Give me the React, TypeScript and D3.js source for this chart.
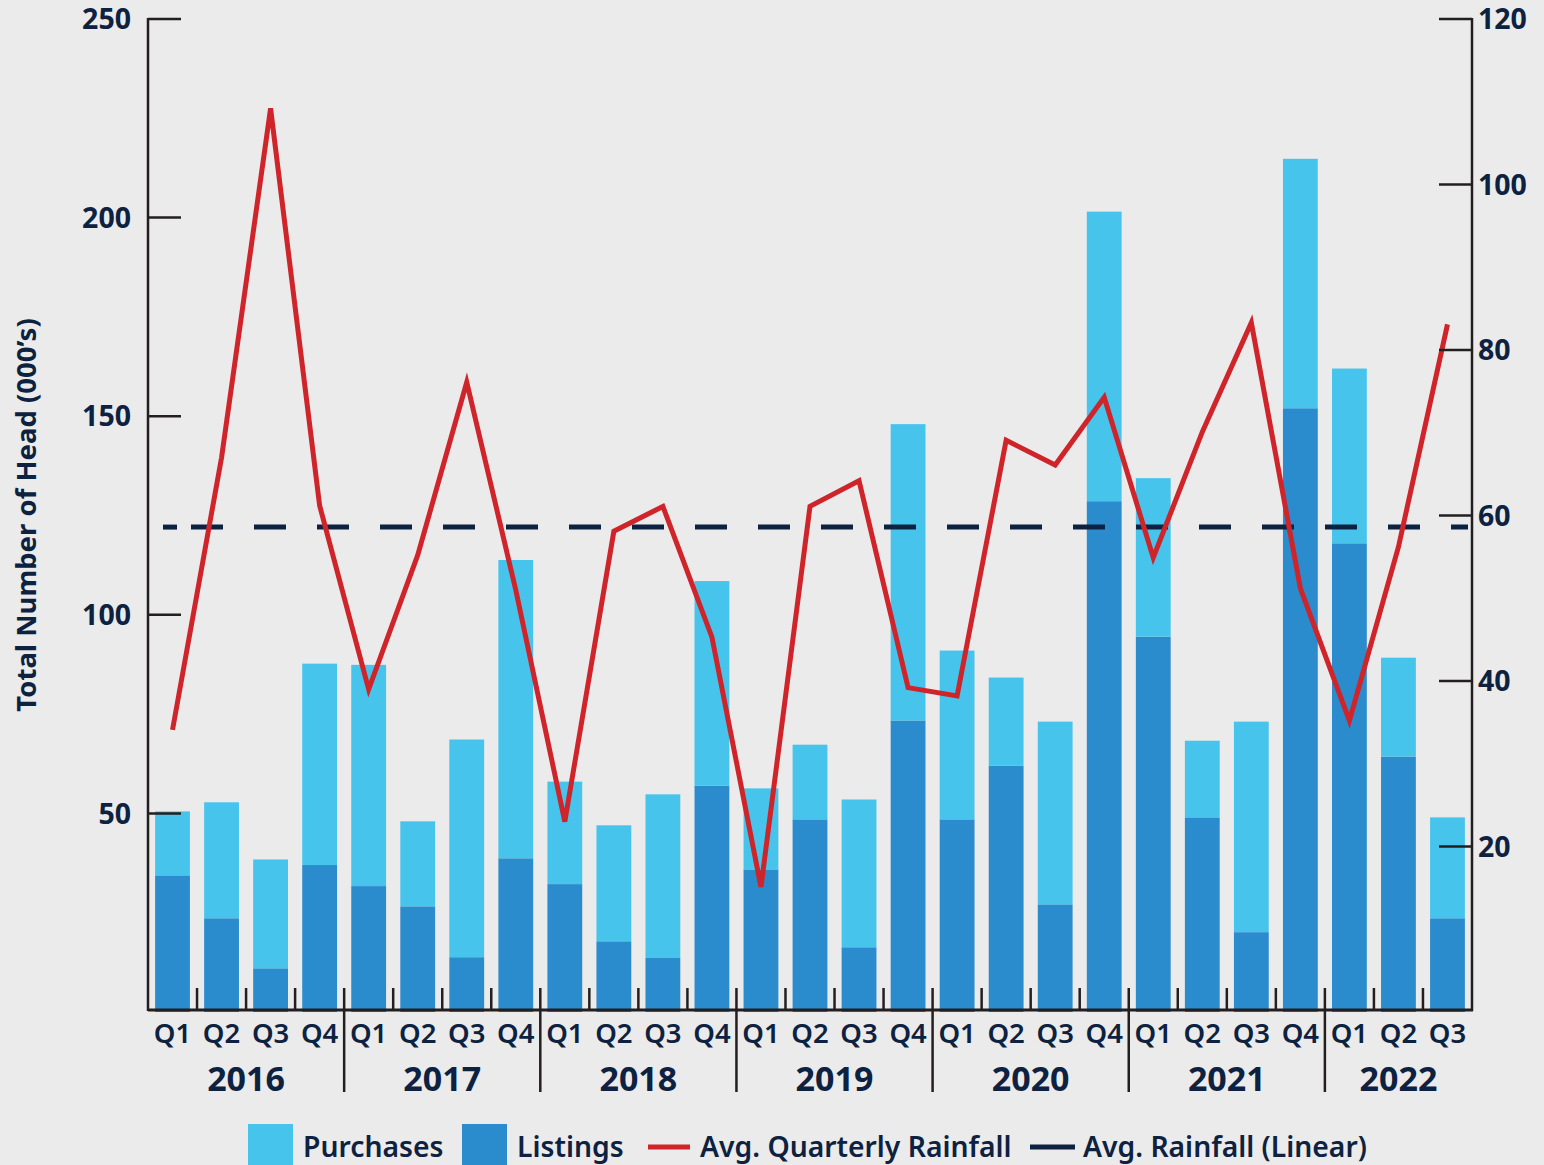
import React from "react";
import * as d3 from "d3";

const quarters = ["Q1","Q2","Q3","Q4","Q1","Q2","Q3","Q4","Q1","Q2","Q3","Q4","Q1","Q2","Q3","Q4","Q1","Q2","Q3","Q4","Q1","Q2","Q3","Q4","Q1","Q2","Q3"];
const years = ["2016","2017","2018","2019","2020","2021","2022"];
const listings = [34.4,23.6,11,37,31.7,26.6,13.8,38.7,32.2,17.8,13.6,57,35.9,48.5,16.3,73.4,48.5,62,27.1,128.6,94.5,49,20.1,152,118,64.3,23.6];
const purchases = [16.1,29.2,27.4,50.7,55.7,21.4,54.8,75.1,25.8,29.2,41.2,51.5,20.4,18.8,37.2,74.6,42.5,22.2,46,72.9,39.9,19.3,53,62.8,44,24.9,25.4];
const rainfall = [34.1,67,109.2,61.2,39,55.2,76.1,51,23,58.1,61.1,45.3,15.1,61.1,64.2,39.2,38.2,69.1,66.1,74.3,54.9,70.1,83.3,51.2,35.2,56.2,83.1];
const avgRainfall = 58.6;
const leftTicks = [50,100,150,200,250];
const rightTicks = [20,40,60,80,100,120];

const W = 1544, H = 1165;
const X0 = 148, X1 = 1472, Y0 = 1012, Y1 = 19;
const NAVY = "#0d2240";
const AXIS = "#231f20";
const LIGHT = "#47c4ec";
const DARK = "#2a8bcd";
const RED = "#d0242b";
const FONT = "'Noto Sans', 'Open Sans', sans-serif";

export default function App() {
  const idx = quarters.map((_, i) => i);
  const x = d3.scaleBand<number>().domain(idx).range([X0, X1]).paddingInner(0.29).paddingOuter(0.145);
  const yL = d3.scaleLinear().domain([0, 250]).range([Y0, Y1]);
  const yR = d3.scaleLinear().domain([0, 120]).range([Y0, Y1]);
  const line = d3.line<number>().x((_, i) => (x(i) as number) + x.bandwidth() / 2).y(d => yR(d));
  const bound = (k: number) => X0 + k * ((X1 - X0) / quarters.length);
  const axisY = 1010;
  const dashY = yR(avgRainfall);

  return (
    <svg width={W} height={H} style={{ position: "absolute", left: 0, top: 0, background: "#ebebeb" }} fontFamily={FONT}>
      <rect x={0} y={0} width={W} height={H} fill="#ebebeb" />
      {idx.map(i => (
        <g key={"b" + i}>
          <rect x={x(i)} width={x.bandwidth()} y={yL(listings[i])} height={yL(0) - yL(listings[i])} fill={DARK} />
          <rect x={x(i)} width={x.bandwidth()} y={yL(listings[i] + purchases[i])} height={yL(listings[i]) - yL(listings[i] + purchases[i])} fill={LIGHT} />
        </g>
      ))}
      <line x1={163} x2={177} y1={dashY} y2={dashY} stroke={NAVY} strokeWidth={5} />
      <line x1={191} x2={1468} y1={dashY} y2={dashY} stroke={NAVY} strokeWidth={5} strokeDasharray="32 31" />
      <path d={line(rainfall) || ""} fill="none" stroke={RED} strokeWidth={5} strokeLinejoin="miter" />
      <line x1={X0} x2={X0} y1={Y1 - 1} y2={axisY + 1} stroke={AXIS} strokeWidth={2.5} />
      <line x1={X1} x2={X1} y1={Y1 - 1} y2={axisY + 1} stroke={AXIS} strokeWidth={2.5} />
      <line x1={X0} x2={X1 + 1} y1={axisY} y2={axisY} stroke={AXIS} strokeWidth={3} />
      {leftTicks.map(t => (
        <g key={"l" + t}>
          <line x1={X0} x2={X0 + 33} y1={yL(t)} y2={yL(t)} stroke={AXIS} strokeWidth={2.5} />
          <text x={131} y={yL(t)} dy="0.36em" textAnchor="end" fontSize={28.5} fontWeight={700} fill={NAVY}>{t}</text>
        </g>
      ))}
      {rightTicks.map(t => (
        <g key={"r" + t}>
          <line x1={X1 - 33} x2={X1} y1={yR(t)} y2={yR(t)} stroke={AXIS} strokeWidth={2.5} />
          <text x={1478} y={yR(t)} dy="0.36em" textAnchor="start" fontSize={28.5} fontWeight={700} fill={NAVY}>{t}</text>
        </g>
      ))}
      {d3.range(1, quarters.length).map(k => (
        <line key={"q" + k} x1={bound(k)} x2={bound(k)} y1={axisY - 22} y2={k % 4 === 0 ? 1092 : axisY} stroke={AXIS} strokeWidth={2.5} />
      ))}
      {idx.map(i => (
        <text key={"ql" + i} x={(x(i) as number) + x.bandwidth() / 2} y={1043} textAnchor="middle" fontSize={27.5} fontWeight={600} fill={NAVY}>{quarters[i]}</text>
      ))}
      {years.map((yr, j) => {
        const a = bound(j * 4);
        const b = Math.min(bound(j * 4 + 4), X1);
        return <text key={yr} x={(a + b) / 2} y={1091} textAnchor="middle" fontSize={34} fontWeight={700} fill={NAVY}>{yr}</text>;
      })}
      <text transform="translate(36,515) rotate(-90)" textAnchor="middle" fontSize={27.5} fontWeight={700} fill={NAVY}>Total Number of Head (000’s)</text>
      <rect x={248} y={1124} width={45} height={45} fill={LIGHT} />
      <text x={303} y={1157} fontSize={28.3} fontWeight={600} fill={NAVY}>Purchases</text>
      <rect x={462} y={1124} width={45} height={45} fill={DARK} />
      <text x={517} y={1157} fontSize={28.3} fontWeight={600} fill={NAVY}>Listings</text>
      <line x1={648} x2={690} y1={1147} y2={1147} stroke={RED} strokeWidth={5} />
      <text x={700} y={1157} fontSize={28.3} fontWeight={600} fill={NAVY}>Avg. Quarterly Rainfall</text>
      <line x1={1030} x2={1075} y1={1147} y2={1147} stroke={NAVY} strokeWidth={5} />
      <text x={1083} y={1157} fontSize={28.3} fontWeight={600} fill={NAVY}>Avg. Rainfall (Linear)</text>
    </svg>
  );
}
